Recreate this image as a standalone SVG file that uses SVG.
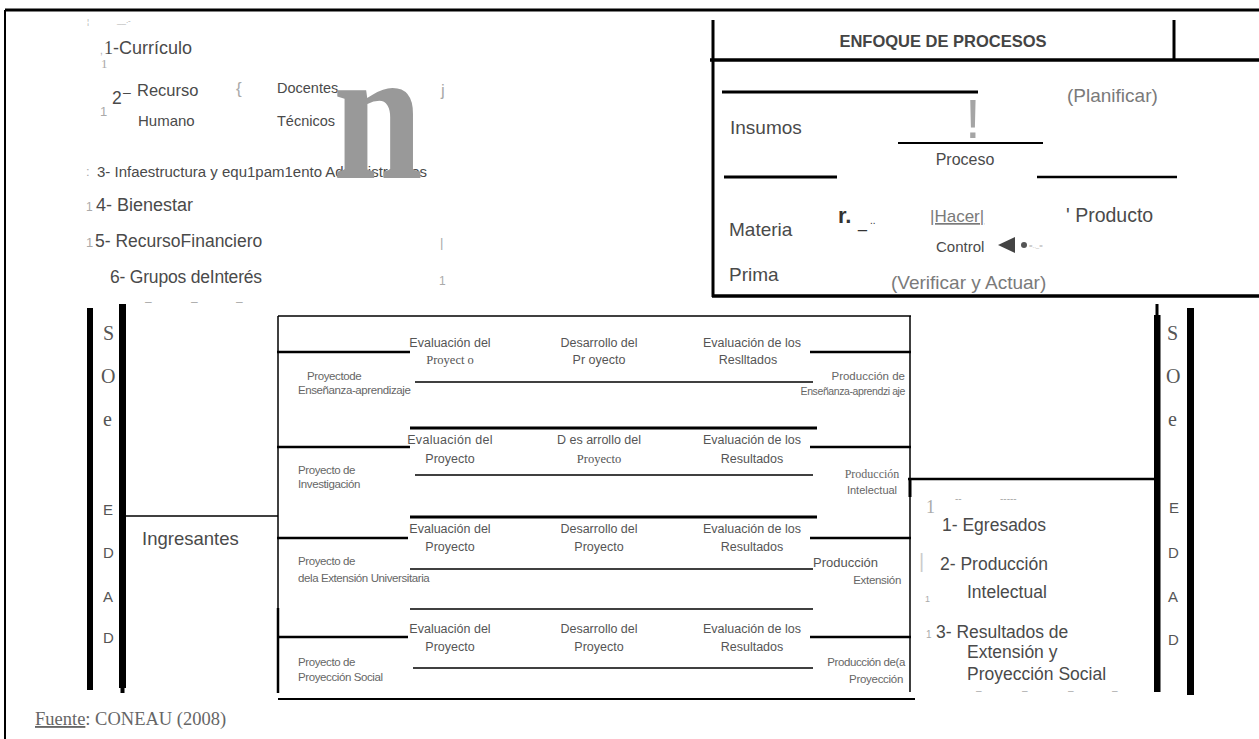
<svg xmlns="http://www.w3.org/2000/svg" width="1259" height="739" viewBox="0 0 1259 739">
<style>
text{font-family:"Liberation Sans",Arial,sans-serif;fill:#4a4a4a}
.ser{font-family:"Liberation Serif","Times New Roman",serif}
.l{font-size:17.5px}
.box{font-size:19px}
.gy{fill:#7a7a7a}
.mid{font-size:12.5px;fill:#555;text-anchor:middle}
.prj{font-size:11.5px;fill:#666;letter-spacing:-0.4px}
.end{text-anchor:end}
.st{fill:#aaa}
.k{stroke:#000;fill:none}
.t1{stroke-width:1.5}
.t2{stroke-width:2}
.t3{stroke-width:3}
.bar{fill:#000}
.let{font-size:20px;fill:#555}
.lets{font-size:15px;fill:#555}
</style>
<rect width="1259" height="739" fill="#fff"/>

<g id="connectors">
  <line class="k t3" x1="5" y1="10" x2="1259" y2="10"/>
  <line class="k t2" x1="5" y1="10" x2="5" y2="739"/>
  <line class="k t3" x1="713" y1="20" x2="713" y2="297"/>
  <line class="k t3" x1="1174" y1="20" x2="1174" y2="60"/>
  <line class="k" stroke-width="3.5" x1="710" y1="60" x2="1259" y2="60"/>
  <line class="k" stroke-width="3.5" x1="712" y1="296" x2="1259" y2="296"/>
  <line class="k t3" x1="722" y1="92" x2="978" y2="92"/>
  <line class="k t2" x1="898" y1="143" x2="1043" y2="143"/>
  <line class="k t3" x1="724" y1="177" x2="837" y2="177"/>
  <line class="k" stroke-width="2.5" x1="1037" y1="177" x2="1177" y2="177"/>
  <rect class="bar" x="87" y="308" width="6" height="382"/>
  <rect class="bar" x="119" y="304" width="7" height="384"/>
  <rect class="bar" x="120.5" y="686" width="4" height="7"/>
  <rect class="bar" x="1155.5" y="304" width="3" height="12"/>
  <rect class="bar" x="1154" y="315" width="6.5" height="377"/>
  <rect class="bar" x="1187" y="308" width="7" height="387"/>
  <line class="k t1" x1="123" y1="516" x2="278" y2="516"/>
  <line class="k t1" x1="278" y1="316" x2="911" y2="316"/>
  <line class="k t1" x1="278" y1="316" x2="278" y2="693"/>
  <line class="k" stroke-width="2.5" x1="278" y1="608" x2="278" y2="693"/>
  <line class="k t1" x1="910" y1="316" x2="910" y2="692"/>
  <line class="k t2" x1="278" y1="699" x2="915" y2="699"/>
  <line class="k" stroke-width="2.5" x1="277" y1="352" x2="410" y2="352"/>
  <line class="k t1" x1="415" y1="382" x2="813" y2="382"/>
  <line class="k" stroke-width="2.5" x1="810" y1="352" x2="911" y2="352"/>
  <line class="k t3" x1="410" y1="428" x2="817" y2="428"/>
  <line class="k" stroke-width="2.5" x1="277" y1="447" x2="410" y2="447"/>
  <line class="k t1" x1="415" y1="475" x2="813" y2="475"/>
  <line class="k" stroke-width="2.5" x1="810" y1="447" x2="911" y2="447"/>
  <line class="k t3" x1="410" y1="517" x2="817" y2="517"/>
  <line class="k" stroke-width="2.5" x1="277" y1="538" x2="408" y2="538"/>
  <line class="k t1" x1="410" y1="569" x2="813" y2="569"/>
  <line class="k" stroke-width="2.5" x1="810" y1="538" x2="911" y2="538"/>
  <line class="k t1" x1="410" y1="609" x2="813" y2="609"/>
  <line class="k" stroke-width="2.5" x1="277" y1="637" x2="408" y2="637"/>
  <line class="k t1" x1="413" y1="668" x2="813" y2="668"/>
  <line class="k" stroke-width="2.5" x1="810" y1="637" x2="911" y2="637"/>
  <line class="k" stroke-width="2.5" x1="908" y1="479" x2="1160" y2="479"/>
  <line class="k t3" x1="910" y1="479" x2="910" y2="497"/>
</g>

<g id="top-marks">
  <text x="87" y="24" font-size="8" class="st">¦</text>
  <text x="117" y="23" font-size="8" class="st">__.-</text>
</g>

<g id="node-curriculo">
  <text x="100" y="54" font-size="10" class="st">,</text>
  <text x="101" y="68" font-size="13" class="st ser">1</text>
  <text x="104" y="54" font-size="18"><tspan class="ser">1</tspan>-Currículo</text>
</g>

<g id="node-recurso-humano">
  <text x="100" y="116" font-size="13" class="st">1</text>
  <text x="112" y="104" class="l">2</text>
  <text x="123" y="97" font-size="14">–</text>
  <text x="137" y="96" font-size="16.5">Recurso</text>
  <text x="138" y="126" font-size="15">Humano</text>
  <text x="236" y="94" font-size="17" class="st">{</text>
  <text x="277" y="93" font-size="14.5">Docentes</text>
  <text x="277" y="126" font-size="14.5">Técnicos</text>
  <text x="441" y="96" font-size="17" class="st">j</text>
</g>

<g id="node-infraestructura">
  <text x="86" y="176" font-size="13" class="st">:</text>
  <text x="97" y="177" font-size="15.5" textLength="330" lengthAdjust="spacingAndGlyphs">3- Infaestructura y equ1pam1ento Administrativos</text>
  <text transform="translate(333,178) scale(0.85,1)" font-size="190" font-weight="bold" class="ser" style="fill:#999">n</text>
</g>

<g id="node-bienestar">
  <text x="86" y="211" font-size="12" class="st">1</text>
  <text x="96" y="211" font-size="18">4- Bienestar</text>
</g>

<g id="node-financiero">
  <text x="86" y="247" font-size="13" class="st">1</text>
  <text x="95" y="247" class="l">5- RecursoFinanciero</text>
  <text x="440" y="247" font-size="13" class="st">|</text>
</g>

<g id="node-grupos">
  <text x="110" y="283" class="l" letter-spacing="-0.2">6- Grupos deInterés</text>
  <text x="439" y="285" font-size="12" class="st">1</text>
  <text x="145" y="306" font-size="12" class="st">–</text>
  <text x="191" y="306" font-size="12" class="st">–</text>
  <text x="236" y="306" font-size="12" class="st">–</text>
</g>

<g id="node-enfoque">
  <text x="943" y="47" font-size="16.5" font-weight="bold" text-anchor="middle" style="fill:#444">ENFOQUE DE PROCESOS</text>
  <text x="1067" y="102" class="box gy">(Planificar)</text>
  <text x="730" y="134" class="box">Insumos</text>
  <text x="973" y="138" font-size="55" text-anchor="middle" style="fill:#a5a5a5">!</text>
  <text x="965" y="165" font-size="16" text-anchor="middle">Proceso</text>
  <text x="729" y="236" class="box">Materia</text>
  <text x="838" y="223" font-size="22" font-weight="bold" style="fill:#333">r.</text>
  <text x="858" y="228" font-size="16" style="fill:#333">_</text>
  <text x="870" y="224" font-size="10" style="fill:#333">..</text>
  <text x="930" y="222" font-size="17" class="gy" text-decoration="underline">|Hacer|</text>
  <text x="1066" y="222" font-size="19.5">' Producto</text>
  <text x="936" y="252" font-size="15">Control</text>
  <polygon points="998,245 1015,237 1015,253" fill="#444"/>
  <circle cx="1024" cy="245" r="3" fill="#555"/>
  <text x="1029" y="248" font-size="6" class="st">=.._=</text>
  <text x="729" y="281" class="box">Prima</text>
  <text x="891" y="289" class="box gy">(Verificar y Actuar)</text>
</g>

<g id="node-sociedad-left">
  <text x="103" y="340" class="let ser">S</text>
  <text x="101" y="383" class="let ser">O</text>
  <text x="103" y="426" class="let ser">e</text>
  <text x="103" y="515" class="lets">E</text>
  <text x="103" y="558" class="lets">D</text>
  <text x="103" y="602" class="lets">A</text>
  <text x="103" y="643" class="lets">D</text>
</g>

<g id="node-ingresantes">
  <text x="142" y="545" font-size="18.5">Ingresantes</text>
</g>

<g id="node-proyecto-ea">
  <text x="307" y="380" class="prj">Proyectode</text>
  <text x="298" y="394" class="prj">Enseñanza-aprendizaje</text>
  <text x="450" y="347" class="mid">Evaluación del</text>
  <text x="450" y="364" class="mid ser">Proyect o</text>
  <text x="599" y="347" class="mid">Desarrollo del</text>
  <text x="599" y="364" class="mid">Pr oyecto</text>
  <text x="752" y="347" class="mid">Evaluación de los</text>
  <text x="748" y="364" class="mid">Reslltados</text>
  <text x="905" y="380" font-size="11.5" class="end" style="fill:#666">Producción de</text>
  <text x="905" y="395" font-size="10.5" class="end" style="fill:#666" letter-spacing="-0.4">Enseñanza-aprendzi aje</text>
</g>

<g id="node-proyecto-inv">
  <text x="298" y="474" class="prj">Proyecto de</text>
  <text x="298" y="488" class="prj">Investigación</text>
  <text x="450" y="444" class="mid" letter-spacing="0.3">Evaluación del</text>
  <text x="450" y="463" class="mid">Proyecto</text>
  <text x="599" y="444" class="mid">D es arrollo del</text>
  <text x="599" y="463" class="mid ser">Proyecto</text>
  <text x="752" y="444" class="mid">Evaluación de los</text>
  <text x="752" y="463" class="mid">Resultados</text>
  <text x="872" y="478" font-size="12" text-anchor="middle" class="ser" style="fill:#666">Producción</text>
  <text x="872" y="494" font-size="11" text-anchor="middle" style="fill:#666">Intelectual</text>
</g>

<g id="node-proyecto-ext">
  <text x="298" y="565" class="prj">Proyecto de</text>
  <text x="298" y="582" class="prj">dela Extensión Universitaria</text>
  <text x="450" y="533" class="mid">Evaluación del</text>
  <text x="450" y="551" class="mid">Proyecto</text>
  <text x="599" y="533" class="mid">Desarrollo del</text>
  <text x="599" y="551" class="mid">Proyecto</text>
  <text x="752" y="533" class="mid">Evaluación de los</text>
  <text x="752" y="551" class="mid">Resultados</text>
  <text x="813" y="567" font-size="13" style="fill:#555">Producción</text>
  <text x="901" y="584" font-size="11.5" class="end" style="fill:#666" letter-spacing="-0.3">Extensión</text>
</g>

<g id="node-proyecto-soc">
  <text x="298" y="666" class="prj">Proyecto de</text>
  <text x="298" y="681" class="prj">Proyección Social</text>
  <text x="450" y="633" class="mid">Evaluación del</text>
  <text x="450" y="651" class="mid">Proyecto</text>
  <text x="599" y="633" class="mid">Desarrollo del</text>
  <text x="599" y="651" class="mid">Proyecto</text>
  <text x="752" y="633" class="mid">Evaluación de los</text>
  <text x="752" y="651" class="mid">Resultados</text>
  <text x="905" y="666" font-size="11.5" class="end" style="fill:#666" letter-spacing="-0.4">Producción de(a</text>
  <text x="903" y="683" font-size="11.5" class="end" style="fill:#666" letter-spacing="-0.3">Proyección</text>
</g>

<g id="node-resultados">
  <text x="926" y="513" font-size="18" class="st ser">1</text>
  <text x="955" y="502" font-size="10" class="st">--</text>
  <text x="1000" y="502" font-size="10" class="st">-----</text>
  <text x="942" y="531" class="l">1- Egresados</text>
  <text x="919" y="568" font-size="20" style="fill:#ccc">|</text>
  <text x="940" y="570" class="l">2- Producción</text>
  <text x="967" y="598" class="l">Intelectual</text>
  <text x="925" y="602" font-size="9" class="st">1</text>
  <text x="926" y="638" font-size="10" class="st">1</text>
  <text x="936" y="638" class="l">3- Resultados de</text>
  <text x="967" y="658" class="l">Extensión y</text>
  <text x="967" y="680" class="l">Proyección Social</text>
  <text x="976" y="694" font-size="10" class="st">–</text>
  <text x="1022" y="694" font-size="10" class="st">–</text>
  <text x="1068" y="694" font-size="10" class="st">–</text>
  <text x="1112" y="694" font-size="10" class="st">–</text>
</g>

<g id="node-sociedad-right">
  <text x="1167" y="340" class="let ser">S</text>
  <text x="1166" y="383" class="let ser">O</text>
  <text x="1168" y="426" class="let ser">e</text>
  <text x="1169" y="513" class="lets">E</text>
  <text x="1168" y="558" class="lets">D</text>
  <text x="1168" y="602" class="lets">A</text>
  <text x="1168" y="645" class="lets">D</text>
</g>

<g id="node-fuente">
  <text x="35" y="725" font-size="18.5" class="ser" style="fill:#666"><tspan text-decoration="underline">Fuente</tspan>: CONEAU (2008)</text>
</g>
</svg>
